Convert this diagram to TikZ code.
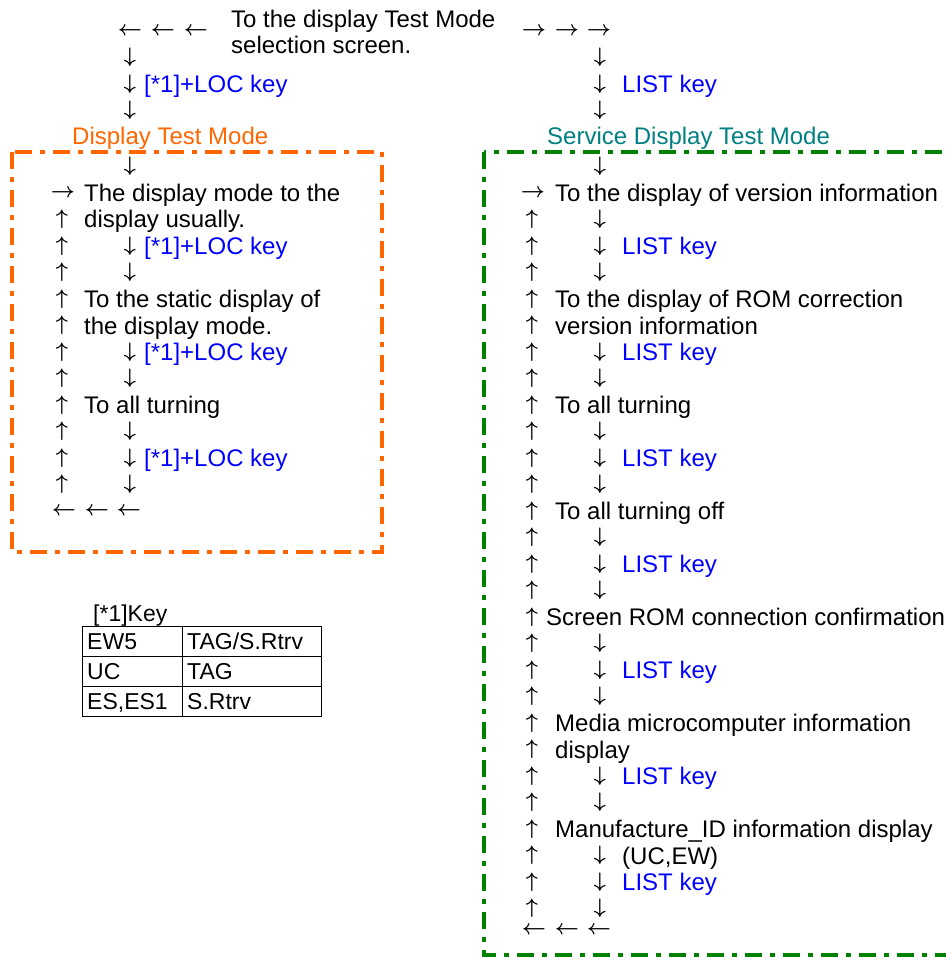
\documentclass[tikz,border=0pt]{standalone}
\usepackage{fontspec}
\setmainfont{Liberation Sans}
\definecolor{keyblue}{RGB}{0,0,255}
\definecolor{modeorange}{RGB}{255,102,0}
\definecolor{modeteal}{RGB}{0,128,128}
\definecolor{modegreen}{RGB}{0,128,0}
\newcommand\glyarr[1]{\scalebox{2.1}{\boldmath$#1$}}
\begin{document}
\begin{tikzpicture}[x=1pt,y=-1pt,
  txt/.style={anchor=base west,inner sep=0pt,font=\fontsize{24}{26}\selectfont},
  keytxt/.style={txt,text=keyblue},
  tbltxt/.style={anchor=base west,inner sep=0pt,font=\fontsize{23}{25}\selectfont},
  arr/.style={inner sep=0pt,font=\fontsize{10}{10}\selectfont},
  frame/.style={line width=4pt,dash pattern=on 17pt off 8pt on 5pt off 8pt},
  tbl/.style={line width=1pt}]
\useasboundingbox (0,0) rectangle (945,957);

% ---------- top ----------
\node[txt] (top1) at (231,28) {To the display Test Mode};
\node[txt] (top2) at (231,54) {selection screen.};
\node[arr] (tl1) at (130,31) {\glyarr\leftarrow};
\node[arr] (tl2) at (163,31) {\glyarr\leftarrow};
\node[arr] (tl3) at (196,31) {\glyarr\leftarrow};
\node[arr] (tr1) at (534,31) {\glyarr\rightarrow};
\node[arr] (tr2) at (567,31) {\glyarr\rightarrow};
\node[arr] (tr3) at (599,31) {\glyarr\rightarrow};
\foreach \y [count=\i] in {57.5,84,110.5}{
  \node[arr] (tld\i) at (130,\y) {\glyarr\downarrow};
  \node[arr] (trd\i) at (600,\y) {\glyarr\downarrow};
}
\node[keytxt] (topkeyL) at (144,92.5) {[*1]+LOC key};
\node[keytxt] (topkeyR) at (622,92.5) {LIST key};

% ---------- frames ----------
\node[txt,text=modeorange] (dtm) at (72,145) {Display Test Mode};
\node[txt,text=modeteal] (sdtm) at (547,145) {Service Display Test Mode};
\draw[frame,draw=modeorange] (12,152) rectangle (382,552);
\draw[frame,draw=modegreen] (484,152) rectangle (955,955);

% ---------- left column ----------
\node[arr] (ld0) at (130,166.5) {\glyarr\downarrow};
\node[arr] (lin) at (63,193) {\glyarr\rightarrow};
\foreach \k in {1,...,11}{
  \node[arr] (lu\k) at (62,{193+26.5*\k}) {\glyarr\uparrow};
}
\foreach \k in {2,3,6,7,9,10,11}{
  \node[arr] (ld\k) at (130,{193+26.5*\k}) {\glyarr\downarrow};
}
\foreach \k in {2,6,10}{
  \node[keytxt] (lk\k) at (144,{201.5+26.5*\k}) {[*1]+LOC key};
}
\node[txt] (lt0) at (84,201.5) {The display mode to the};
\node[txt] (lt1) at (84,228) {display usually.};
\node[txt] (lt4) at (84,307.5) {To the static display of};
\node[txt] (lt5) at (84,334) {the display mode.};
\node[txt] (lt8) at (84,413.5) {To all turning};
\node[arr] (lb1) at (64,511) {\glyarr\leftarrow};
\node[arr] (lb2) at (97,511) {\glyarr\leftarrow};
\node[arr] (lb3) at (129,511) {\glyarr\leftarrow};

% ---------- right column ----------
\node[arr] (rd0) at (600,166.5) {\glyarr\downarrow};
\node[arr] (rin) at (533,193) {\glyarr\rightarrow};
\foreach \k in {1,...,27}{
  \node[arr] (ru\k) at (532,{193+26.5*\k}) {\glyarr\uparrow};
}
\foreach \k in {1,2,3,6,7,9,10,11,13,14,15,17,18,19,22,23,25,26,27}{
  \node[arr] (rd\k) at (600,{193+26.5*\k}) {\glyarr\downarrow};
}
\foreach \k in {2,6,10,14,18,22,26}{
  \node[keytxt] (rk\k) at (622,{201.5+26.5*\k}) {LIST key};
}
\node[txt] (rt0) at (555,201.5) {To the display of version information};
\node[txt] (rt4) at (555,307.5) {To the display of ROM correction};
\node[txt] (rt5) at (555,334) {version information};
\node[txt] (rt8) at (555,413.5) {To all turning};
\node[txt] (rt12) at (555,519.5) {To all turning off};
\node[txt] (rt16) at (546,625.5) {Screen ROM connection confirmation};
\node[txt] (rt20) at (555,731.5) {Media microcomputer information};
\node[txt] (rt21) at (555,758) {display};
\node[txt] (rt24) at (555,837.5) {Manufacture\_ID information display};
\node[txt] (rt25) at (622,864) {(UC,EW)};
\node[arr] (rb1) at (534,930) {\glyarr\leftarrow};
\node[arr] (rb2) at (567,930) {\glyarr\leftarrow};
\node[arr] (rb3) at (599,930) {\glyarr\leftarrow};

% ---------- key table ----------
\node[tbltxt] (keyttl) at (93,621) {[*1]Key};
\draw[tbl] (82,626) rectangle (321,716);
\draw[tbl] (82,656) -- (321,656);
\draw[tbl] (82,686) -- (321,686);
\draw[tbl] (182,626) -- (182,716);
\node[tbltxt] (c11) at (87,649) {EW5};
\node[tbltxt] (c12) at (187,649) {TAG/S.Rtrv};
\node[tbltxt] (c21) at (87,679) {UC};
\node[tbltxt] (c22) at (187,679) {TAG};
\node[tbltxt] (c31) at (87,709) {ES,ES1};
\node[tbltxt] (c32) at (187,709) {S.Rtrv};
\end{tikzpicture}
\end{document}
